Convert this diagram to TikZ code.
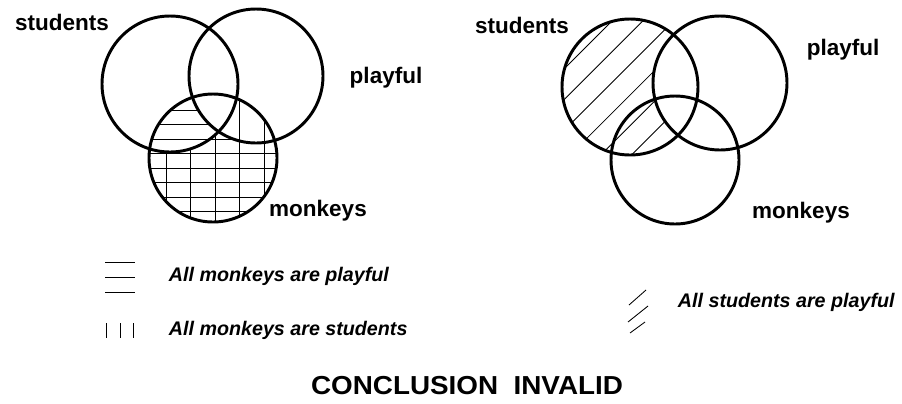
\documentclass[tikz,border=0pt]{standalone}
\usepackage{fontspec}
\setmainfont{Liberation Sans}
\begin{document}
\begin{tikzpicture}[x=0.025cm,y=-0.025cm,
  ring/.style={line width=2.1pt},
  hatch/.style={line width=0.6pt},
  setname/.style={font=\fontsize{16}{16}\selectfont\bfseries},
  legtext/.style={anchor=west,font=\fontsize{14}{14}\selectfont\bfseries\itshape}]
\useasboundingbox (0,0) rectangle (902,403);
\begin{scope}[even odd rule]
\clip (213,158) circle[radius=64];
\clip (0,0) rectangle (902,403) (256,76) circle[radius=67];
\foreach \y in {110,124.5,...,220}\draw[hatch](140,\y)--(290,\y);
\end{scope}
\begin{scope}[even odd rule]
\clip (213,158) circle[radius=64];
\clip (0,0) rectangle (902,403) (170,84) circle[radius=68];
\foreach \x in {166,190.5,...,280}\draw[hatch](\x,80)--(\x,230);
\end{scope}
\draw[ring](170,84) circle[radius=68];
\draw[ring](256,76) circle[radius=67];
\draw[ring](213,158) circle[radius=64];
\node[setname] (lstud) at (62,22){students};
\node[setname] (lplay) at (386,78){playful};
\node[setname] (lmonk) at (318,211){monkeys};
\begin{scope}[even odd rule]
\clip (630,87) circle[radius=68];
\clip (0,0) rectangle (902,403) (720,83) circle[radius=67];
\foreach \c in {633,663.7,...,830}\draw[hatch](\c-180,180)--(\c,0);
\end{scope}
\draw[ring](630,87) circle[radius=68];
\draw[ring](720,83) circle[radius=67];
\draw[ring](675,160) circle[radius=64];
\node[setname] (rstud) at (522,25){students};
\node[setname] (rplay) at (843,50){playful};
\node[setname] (rmonk) at (801,213){monkeys};
\foreach \y in {262,277,292}\draw[hatch](105,\y)--(135,\y);
\node[legtext] (hleg) at (164,276){All monkeys are playful};
\foreach \x in {106,120,133}\draw[hatch](\x,323)--(\x,338);
\node[legtext] (vleg) at (164,330){All monkeys are students};
\draw[hatch](629,305)--(646,290) (628,322)--(648,306) (630,333)--(645,322);
\node[legtext] (dleg) at (673,302){All students are playful};
\node[font=\fontsize{18.5}{19}\selectfont\bfseries] (concl) at (467,386){\scalebox{1.07}[1]{CONCLUSION\ \ INVALID}};
\end{tikzpicture}
\end{document}
